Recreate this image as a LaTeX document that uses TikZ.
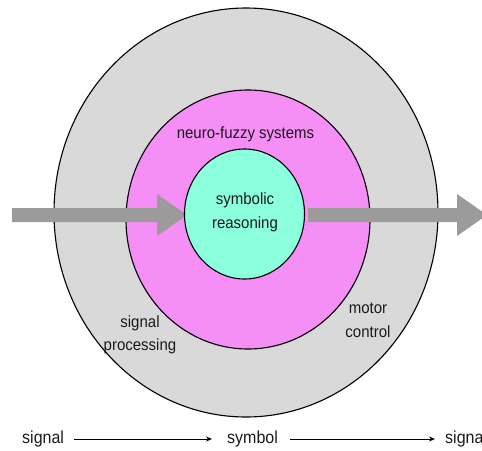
\documentclass[tikz,border=0pt]{standalone}
\usepackage{fontspec}
% slightly condensed so the letters sit a little taller for their width
\setmainfont[FakeStretch=0.92]{Liberation Sans}
\usetikzlibrary{shapes.geometric,arrows.meta}

\definecolor{ringgray}{HTML}{D9D9D9}
\definecolor{ringpink}{HTML}{F58EF5}
\definecolor{coregreen}{HTML}{8CFFDC}
\definecolor{flowgray}{HTML}{9B9B9B}
\definecolor{inkgray}{HTML}{1A1A1A}

\tikzset{
  ring/.style={draw=black, line width=1.1pt, ellipse, inner sep=0pt},
  flow/.style={fill=flowgray, draw=none},
  lbl/.style={font=\fontsize{16.3}{23.5}\selectfont, text=inkgray, align=center, inner sep=0pt},
  rowtxt/.style={font=\fontsize{17.4}{20}\selectfont, text=inkgray, inner sep=0pt,
                 text height=12pt, text depth=4pt, anchor=base west},
  rowarrow/.style={line width=0.8pt, -{Stealth[length=6pt,width=5pt]}}
}

\begin{document}
\begin{tikzpicture}[x=1pt, y=-1pt]
  \useasboundingbox (0,0) rectangle (482,450);

  % outer and middle rings
  \node[ring, fill=ringgray, minimum width=384pt, minimum height=409pt] (outer) at (246,212.5) {};
  \node[ring, fill=ringpink, minimum width=244pt, minimum height=259pt] (middle) at (248,219.5) {};

  % broad flow arrows through the rings
  \fill[flow] (12,208) -- (157,208) -- (157,194) -- (187,215) -- (157,236) -- (157,222) -- (12,222) -- cycle;
  \fill[flow] (308,208) -- (457,208) -- (457,194) -- (487,215) -- (457,236) -- (457,222) -- (308,222) -- cycle;

  % core
  \node[ring, fill=coregreen, minimum width=120pt, minimum height=130pt] (core) at (244.5,214) {};
  \node[lbl] (coretxt) at (245,212.5) {symbolic\\reasoning};

  % ring labels
  \node[lbl, anchor=base] (nfs) at (245.5,138) {neuro-fuzzy systems};
  \node[lbl] (sigproc) at (140,335) {signal\\processing};
  \node[lbl] (motor) at (368,320.5) {motor\\control};

  % bottom row
  \node[rowtxt] (sigin) at (22,443) {signal};
  \node[rowtxt] (sym) at (227,443) {symbol};
  \node[rowtxt] (sigout) at (445,443) {signal};
  \draw[rowarrow, shorten <=10pt, shorten >=15pt] (sigin.east) -- (sym.west);
  \draw[rowarrow, shorten <=12pt, shorten >=10pt] (sym.east) -- (sigout.west);
\end{tikzpicture}
\end{document}
